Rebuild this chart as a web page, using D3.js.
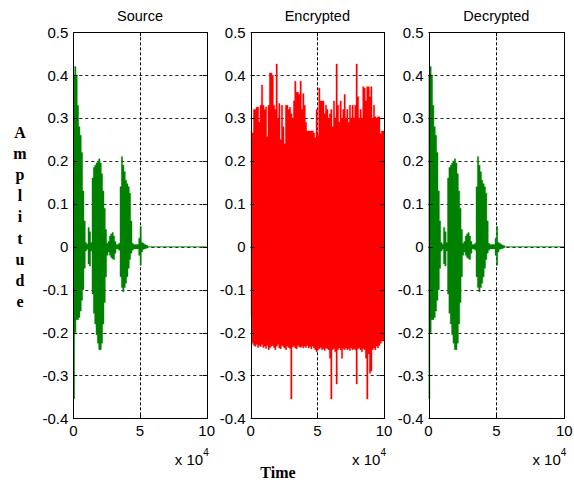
<!DOCTYPE html>
<html>
<head>
<meta charset="utf-8">
<script src="https://cdn.jsdelivr.net/npm/d3@7"></script>
<style>
body { margin: 0; background: #fff; }
text { font-family: "Liberation Sans", Arial, sans-serif; }
</style>
</head>
<body>
<script>
// panel titles and axis ticks
var titles = ['Source', 'Encrypted', 'Decrypted'];
var xTicks = [0, 5, 10];
var yTicks = [-0.4, -0.3, -0.2, -0.1, 0, 0.1, 0.2, 0.3, 0.4, 0.5];
var yTickLabels = ['-0.4', '-0.3', '-0.2', '-0.1', '0', '0.1', '0.2', '0.3', '0.4', '0.5'];

// envelopes, one value every 0.1 x 10^4 samples
var sampleStep = 0.1;
var sourceUpper = [0.40, 0.42, 0.40, 0.33, 0.28, 0.26, 0.22, 0.13, 0.06, 0.01,
	0.006, 0.045, 0.035, 0.01, 0.16, 0.185, 0.19, 0.195, 0.20, 0.205,
	0.195, 0.17, 0.13, 0.09, 0.04, 0.008, 0.012, 0.025, 0.03, 0.033,
	0.025, 0.012, 0.005, 0.005, 0.008, 0.14, 0.21, 0.19, 0.175, 0.155,
	0.147, 0.14, 0.125, 0.06, 0.008, 0.005, 0.005, 0.005, 0.005, 0.02,
	0.047, 0.01, 0.008, 0.006, 0.004, 0.003];
var sourceLower = [-0.355, -0.20, -0.17, -0.17, -0.165, -0.15, -0.125, -0.10, -0.05, -0.01,
	-0.006, -0.04, -0.045, -0.01, -0.11, -0.155, -0.18, -0.205, -0.225, -0.24,
	-0.24, -0.225, -0.18, -0.13, -0.07, -0.02, -0.012, -0.02, -0.025, -0.028,
	-0.03, -0.015, -0.005, -0.005, -0.008, -0.07, -0.095, -0.105, -0.095, -0.085,
	-0.07, -0.05, -0.03, -0.015, -0.008, -0.005, -0.005, -0.005, -0.005, -0.02,
	-0.043, -0.012, -0.006, -0.005, -0.004, -0.003];

var encryptedUpper = [0.27, 0.265, 0.32, 0.32, 0.325, 0.326, 0.29, 0.33, 0.377, 0.33,
	0.32, 0.326, 0.257, 0.33, 0.405, 0.405, 0.40, 0.33, 0.32, 0.426,
	0.30, 0.334, 0.25, 0.33, 0.28, 0.24, 0.33, 0.33, 0.32, 0.325,
	0.31, 0.30, 0.34, 0.386, 0.36, 0.36, 0.355, 0.386, 0.32, 0.357,
	0.33, 0.29, 0.27, 0.27, 0.27, 0.27, 0.27, 0.265, 0.255, 0.32,
	0.26, 0.37, 0.34, 0.34, 0.34, 0.31, 0.33, 0.32, 0.30, 0.31,
	0.32, 0.28, 0.34, 0.30, 0.426, 0.33, 0.29, 0.34, 0.30, 0.32,
	0.355, 0.30, 0.32, 0.29, 0.33, 0.30, 0.33, 0.30, 0.33, 0.426,
	0.35, 0.30, 0.32, 0.30, 0.373, 0.37, 0.34, 0.373, 0.373, 0.35,
	0.373, 0.30, 0.33, 0.303, 0.30, 0.303, 0.303, 0.264, 0.27, 0.27];
var encryptedLower = [-0.16, -0.225, -0.23, -0.232, -0.228, -0.235, -0.23, -0.233, -0.228, -0.235,
	-0.232, -0.237, -0.23, -0.24, -0.235, -0.232, -0.23, -0.235, -0.24, -0.232,
	-0.228, -0.236, -0.238, -0.23, -0.233, -0.236, -0.24, -0.232, -0.235, -0.237,
	-0.355, -0.234, -0.232, -0.236, -0.238, -0.23, -0.233, -0.235, -0.232, -0.236,
	-0.232, -0.235, -0.23, -0.236, -0.233, -0.238, -0.232, -0.236, -0.24, -0.245,
	-0.24, -0.238, -0.235, -0.24, -0.238, -0.242, -0.236, -0.238, -0.24, -0.26,
	-0.355, -0.24, -0.238, -0.245, -0.32, -0.24, -0.236, -0.24, -0.26, -0.238,
	-0.24, -0.236, -0.24, -0.238, -0.242, -0.236, -0.24, -0.238, -0.24, -0.32,
	-0.238, -0.236, -0.24, -0.245, -0.238, -0.24, -0.26, -0.355, -0.25, -0.295,
	-0.29, -0.24, -0.236, -0.24, -0.232, -0.236, -0.23, -0.225, -0.22, -0.22];

// the decrypted signal looks the same as the source
var decryptedUpper = sourceUpper;
var decryptedLower = sourceLower;

var width = 574, height = 484;
var top_ = 32.3, bottom = 418.3;

var panels = [
	{title: titles[0], left: 73.3, right: 206.7, color: '#008000', upper: sourceUpper, lower: sourceLower},
	{title: titles[1], left: 250.7, right: 384, color: '#ff0000', upper: encryptedUpper, lower: encryptedLower},
	{title: titles[2], left: 428.5, right: 564.3, color: '#008000', upper: decryptedUpper, lower: decryptedLower}
];

var svg = d3.select('body').append('svg')
	.attr('width', width)
	.attr('height', height);

var yScale = d3.scaleLinear().domain([-0.4, 0.5]).range([bottom, top_]);

panels.forEach((p, k) => {
	var xScale = d3.scaleLinear().domain([0, 10]).range([p.left, p.right]);
	var g = svg.append('g');

	g.append('clipPath').attr('id', 'clip' + k)
		.append('rect')
		.attr('x', p.left).attr('y', top_)
		.attr('width', p.right - p.left).attr('height', bottom - top_);

	// grid
	g.selectAll('.hgrid')
		.data(yTicks.filter(d => d > -0.4 && d < 0.5))
		.enter().append('line')
		.attr('x1', p.left).attr('x2', p.right)
		.attr('y1', d => Math.round(yScale(d)) + 0.5)
		.attr('y2', d => Math.round(yScale(d)) + 0.5)
		.attr('stroke', '#222')
		.attr('stroke-dasharray', '3,3');
	g.selectAll('.vgrid')
		.data(xTicks.filter(d => d > 0 && d < 10))
		.enter().append('line')
		.attr('x1', d => Math.round(xScale(d)) + 0.5)
		.attr('x2', d => Math.round(xScale(d)) + 0.5)
		.attr('y1', top_).attr('y2', bottom)
		.attr('stroke', '#000')
		.attr('stroke-dasharray', '3,2');

	// signal
	var sig = g.append('g').attr('clip-path', 'url(#clip' + k + ')');
	var pts = p.upper.map((u, i) => ({x: i * sampleStep, hi: u, lo: p.lower[i]}));
	if (p.color === '#008000') {
		sig.append('line')
			.attr('x1', xScale(0)).attr('x2', xScale(10))
			.attr('y1', yScale(0)).attr('y2', yScale(0))
			.attr('stroke', p.color).attr('stroke-opacity', 0.6)
			.attr('stroke-width', 1.6);
	}
	var area = d3.area()
		.x(d => xScale(d.x))
		.y0(d => yScale(d.lo))
		.y1(d => yScale(d.hi))
		.curve(d3.curveStepAfter);
	sig.append('path')
		.datum(pts.concat([{x: pts.length * sampleStep, hi: 0, lo: 0}]))
		.attr('d', area)
		.attr('fill', p.color)
		.attr('stroke', p.color)
		.attr('stroke-width', 0.4);

	// box
	g.append('rect')
		.attr('x', Math.round(p.left) + 0.5).attr('y', Math.round(top_) + 0.5)
		.attr('width', Math.round(p.right) - Math.round(p.left))
		.attr('height', Math.round(bottom) - Math.round(top_))
		.attr('fill', 'none').attr('stroke', '#000');

	// inward tick marks
	yTicks.forEach(t => {
		var yy = Math.round(yScale(t)) + 0.5;
		g.append('line').attr('x1', p.left).attr('x2', p.left + 4)
			.attr('y1', yy).attr('y2', yy).attr('stroke', '#000');
		g.append('line').attr('x1', p.right - 4).attr('x2', p.right)
			.attr('y1', yy).attr('y2', yy).attr('stroke', '#000');
	});
	xTicks.forEach(t => {
		var xx = Math.round(xScale(t)) + 0.5;
		g.append('line').attr('x1', xx).attr('x2', xx)
			.attr('y1', bottom - 4).attr('y2', bottom).attr('stroke', '#000');
		g.append('line').attr('x1', xx).attr('x2', xx)
			.attr('y1', top_).attr('y2', top_ + 4).attr('stroke', '#000');
	});

	// tick labels
	g.selectAll('.ylab')
		.data(yTicks)
		.enter().append('text')
		.attr('x', p.left - 5)
		.attr('y', d => yScale(d))
		.attr('dy', '0.36em')
		.attr('text-anchor', 'end')
		.attr('font-size', 15)
		.attr('fill', '#000')
		.text((d, i) => yTickLabels[i]);
	g.selectAll('.xlab')
		.data(xTicks)
		.enter().append('text')
		.attr('x', d => xScale(d))
		.attr('y', bottom + 18)
		.attr('text-anchor', 'middle')
		.attr('font-size', 15)
		.attr('fill', '#000')
		.text(d => d);

	// exponent label
	var ex = g.append('text')
		.attr('x', p.right + 2)
		.attr('y', 465)
		.attr('text-anchor', 'end')
		.attr('font-size', 15)
		.attr('fill', '#000');
	ex.append('tspan').text('x 10');
	ex.append('tspan').attr('font-size', 10).attr('dy', -9).text('4');

	// title
	g.append('text')
		.attr('x', (p.left + p.right) / 2)
		.attr('y', 21)
		.attr('text-anchor', 'middle')
		.attr('font-size', 14.5)
		.attr('fill', '#000')
		.text(p.title);
});

// axis titles
svg.append('text')
	.attr('x', 278).attr('y', 478)
	.attr('text-anchor', 'middle')
	.style('font-family', '"Liberation Serif", "Times New Roman", serif')
	.attr('font-weight', 'bold')
	.attr('font-size', 16)
	.text('Time');

svg.append('g').selectAll('text')
	.data('Amplitude'.split(''))
	.enter().append('text')
	.attr('x', 20)
	.attr('y', (d, i) => 138 + i * 21.1)
	.attr('text-anchor', 'middle')
	.style('font-family', '"Liberation Serif", "Times New Roman", serif')
	.attr('font-weight', 'bold')
	.attr('font-size', 16)
	.text(d => d);
</script>
</body>
</html>
